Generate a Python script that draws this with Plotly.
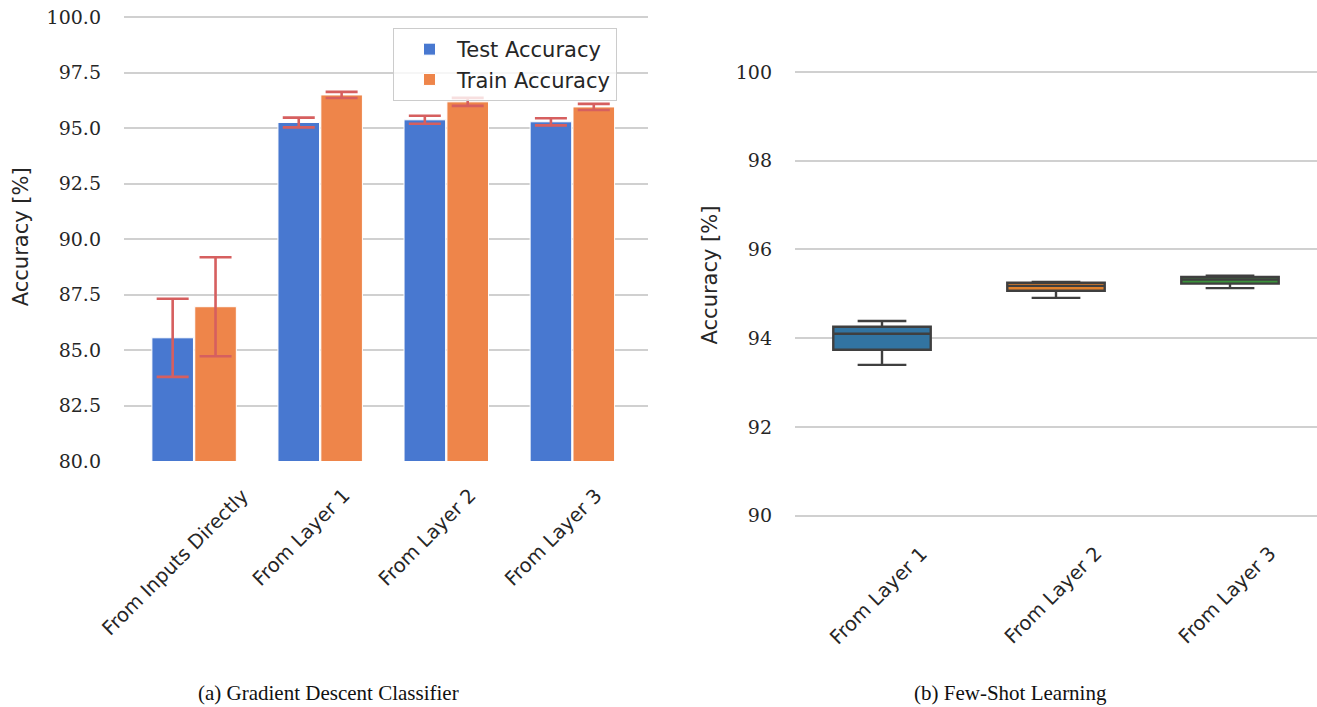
import plotly.graph_objects as go

# ---------------- data ----------------
bar_categories = ["From Inputs Directly", "From Layer 1", "From Layer 2", "From Layer 3"]
test_acc = [85.55, 95.25, 95.37, 95.28]
test_err = [1.76, 0.22, 0.18, 0.16]
train_acc = [86.95, 96.49, 96.18, 95.95]
train_err = [2.23, 0.14, 0.18, 0.14]

box_categories = ["From Layer 1", "From Layer 2", "From Layer 3"]
box_lowerfence = [93.40, 94.91, 95.13]
box_q1 = [93.74, 95.07, 95.23]
box_median = [94.10, 95.18, 95.32]
box_q3 = [94.26, 95.25, 95.38]
box_upperfence = [94.39, 95.27, 95.41]
box_colors = ["#3274a1", "#e1812c", "#3a923a"]

left_yticks = [80.0, 82.5, 85.0, 87.5, 90.0, 92.5, 95.0, 97.5, 100.0]
right_yticks = [90, 92, 94, 96, 98, 100]

# body margin is removed by the post script, so the figure fills the window
OFF = 0
W, H = 1317 - OFF, 707 - OFF
SANS = "DejaVu Sans"
SERIF = "DejaVu Serif"
GRID = "#d0d0d0"
ERR = "#d65f5f"
TXT = "#262626"

fig = go.Figure()

fig.add_trace(go.Bar(
    x=bar_categories, y=test_acc, name="Test Accuracy",
    marker=dict(color="#4878d0", line=dict(color="white", width=1)),
    error_y=dict(type="data", array=test_err, color=ERR, thickness=2.6, width=16),
    xaxis="x", yaxis="y",
))
fig.add_trace(go.Bar(
    x=bar_categories, y=train_acc, name="Train Accuracy",
    marker=dict(color="#ee854a", line=dict(color="white", width=1)),
    error_y=dict(type="data", array=train_err, color=ERR, thickness=2.6, width=16),
    xaxis="x", yaxis="y",
))

for i, cat in enumerate(box_categories):
    fig.add_trace(go.Box(
        x=[cat], q1=[box_q1[i]], median=[box_median[i]], q3=[box_q3[i]],
        lowerfence=[box_lowerfence[i]], upperfence=[box_upperfence[i]],
        fillcolor=box_colors[i], line=dict(color="#3f3f3f", width=2.4),
        whiskerwidth=0.5, showlegend=False, xaxis="x2", yaxis="y2",
        hoverinfo="skip",
    ))

def px_x(p):
    return (p - OFF) / W

def px_y(p):
    return 1 - (p - OFF) / H

fig.update_layout(
    width=W, height=H,
    margin=dict(l=0, r=0, t=0, b=0, autoexpand=False),
    paper_bgcolor="white", plot_bgcolor="white",
    barmode="group", bargap=0.32, bargroupgap=0.03,
    boxmode="overlay", boxgap=0.2,
    font=dict(family=SANS, color=TXT),
    showlegend=True,
    legend=dict(
        x=px_x(393), y=px_y(28), xanchor="left", yanchor="top",
        bgcolor="rgba(255,255,255,0.8)", bordercolor="#cccccc", borderwidth=1,
        font=dict(family=SANS, size=21, color=TXT),
        itemwidth=45, tracegroupgap=2, indentation=8,
    ),
    xaxis=dict(
        domain=[px_x(124), px_x(648)], range=[-0.556, 3.60],
        showticklabels=False, showgrid=False, zeroline=False, showline=False,
        anchor="y", automargin=False,
    ),
    yaxis=dict(
        domain=[px_y(461), px_y(12.6)], range=[80, 100.2],
        tickvals=left_yticks, ticktext=[f"{v:.1f}" for v in left_yticks],
        showgrid=True, gridcolor=GRID, gridwidth=1.6, zeroline=False, showline=False,
        tickfont=dict(family=SERIF, size=19, color=TXT),
        ticklabelstandoff=22, ticklabeloverflow="allow",
        title=dict(text="Accuracy [%]", font=dict(family=SANS, size=21, color=TXT), standoff=12),
        anchor="x", automargin=False,
    ),
    xaxis2=dict(
        domain=[px_x(795), 1.0], range=[-0.5, 2.5],
        showticklabels=False, showgrid=False, zeroline=False, showline=False,
        anchor="y2", automargin=False,
    ),
    yaxis2=dict(
        domain=[px_y(530), px_y(20)], range=[89.68, 101.17],
        tickvals=right_yticks, ticktext=[str(v) for v in right_yticks],
        showgrid=True, gridcolor=GRID, gridwidth=1.6, zeroline=False, showline=False,
        tickfont=dict(family=SERIF, size=19, color=TXT),
        ticklabelstandoff=22, ticklabeloverflow="allow",
        title=dict(text="Accuracy [%]", font=dict(family=SANS, size=21, color=TXT), standoff=12),
        anchor="x2", automargin=False,
    ),
)

annotations = []
for cat in bar_categories:
    annotations.append(dict(
        x=cat, xref="x", y=px_y(482), yref="paper", text=cat, showarrow=False,
        textangle=-45, xanchor="center", yanchor="top", xshift=-19,
        font=dict(family=SANS, size=19.5, color=TXT),
    ))
for cat in box_categories:
    annotations.append(dict(
        x=cat, xref="x2", y=px_y(540), yref="paper", text=cat, showarrow=False,
        textangle=-45, xanchor="center", yanchor="top", xshift=-3,
        font=dict(family=SANS, size=19.5, color=TXT),
    ))
annotations.append(dict(
    x=px_x(328), y=px_y(693), xref="paper", yref="paper",
    text="(a) Gradient Descent Classifier", showarrow=False,
    xanchor="center", yanchor="middle",
    font=dict(family="Liberation Serif", size=21, color="#111111"),
))
annotations.append(dict(
    x=px_x(1010), y=px_y(693), xref="paper", yref="paper",
    text="(b) Few-Shot Learning", showarrow=False,
    xanchor="center", yanchor="middle",
    font=dict(family="Liberation Serif", size=21, color="#111111"),
))
fig.update_layout(annotations=annotations)

fig.write_html(
    "out.html",
    config={"displayModeBar": False},
    post_script="document.body.style.margin='0';document.body.style.overflow='hidden';",
)
